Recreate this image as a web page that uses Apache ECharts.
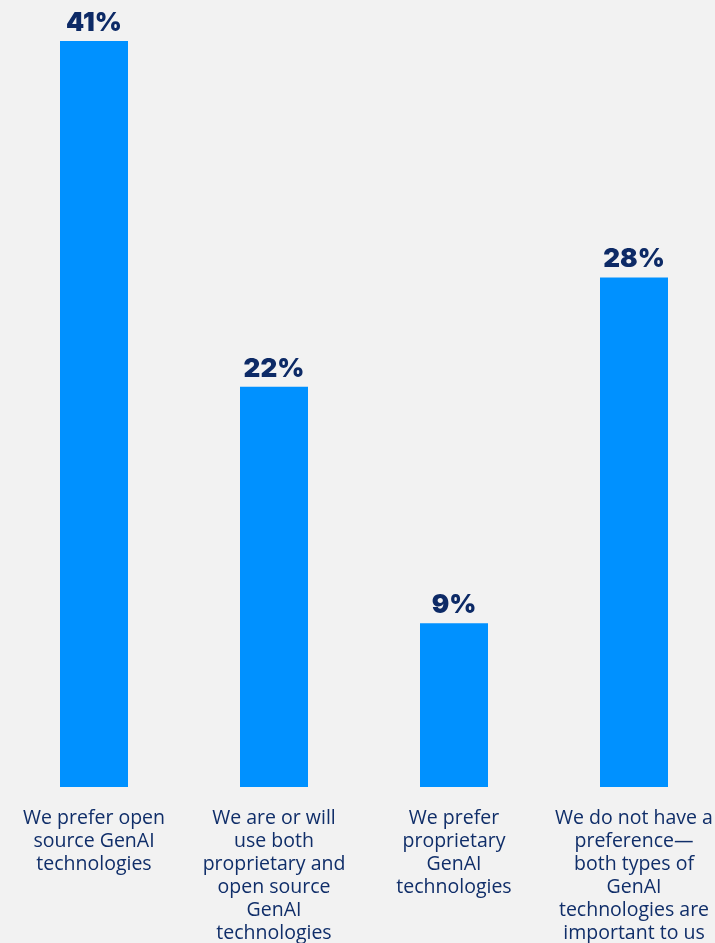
<!DOCTYPE html>
<html>
<head>
<meta charset="utf-8">
<script src="https://cdn.jsdelivr.net/npm/echarts@6/dist/echarts.min.js"></script>
<style>
  html, body { margin: 0; padding: 0; background: #f2f2f2; overflow: hidden; width: 715px; height: 943px; }
  #chart { width: 724px; height: 943px; }
</style>
</head>
<body>
<div id="chart"></div>
<script>
const categories = [
  "We prefer open\nsource GenAI\ntechnologies",
  "We are or will\nuse both\nproprietary and\nopen source\nGenAI\ntechnologies",
  "We prefer\nproprietary\nGenAI\ntechnologies",
  "We do not have a\npreference—\nboth types of\nGenAI\ntechnologies are\nimportant to us"
];
const values = [41, 22, 9, 28];

const chart = echarts.init(document.getElementById('chart'), null, { renderer: 'canvas' });
chart.setOption({
  backgroundColor: '#f2f2f2',
  animation: false,
  grid: { left: 4, top: 41, right: 0, bottom: 156, containLabel: false, outerBoundsMode: 'none' },
  xAxis: {
    type: 'category',
    data: categories,
    axisLine: { show: false },
    axisTick: { show: false },
    axisLabel: {
      interval: 0,
      margin: 20,
      color: '#102e69',
      fontFamily: 'Open Sans',
      fontSize: 19.5,
      lineHeight: 23,
      align: 'center'
    }
  },
  yAxis: {
    type: 'value',
    min: 0,
    max: 41,
    show: false,
    splitLine: { show: false }
  },
  series: [{
    type: 'bar',
    data: values,
    barWidth: 68,
    itemStyle: { color: '#0091ff' },
    label: {
      show: true,
      position: 'top',
      distance: 5,
      formatter: '{c}%',
      color: '#0d2a66',
      fontFamily: 'Inter',
      fontWeight: 900,
      fontSize: 26
    }
  }]
});
</script>
</body>
</html>
